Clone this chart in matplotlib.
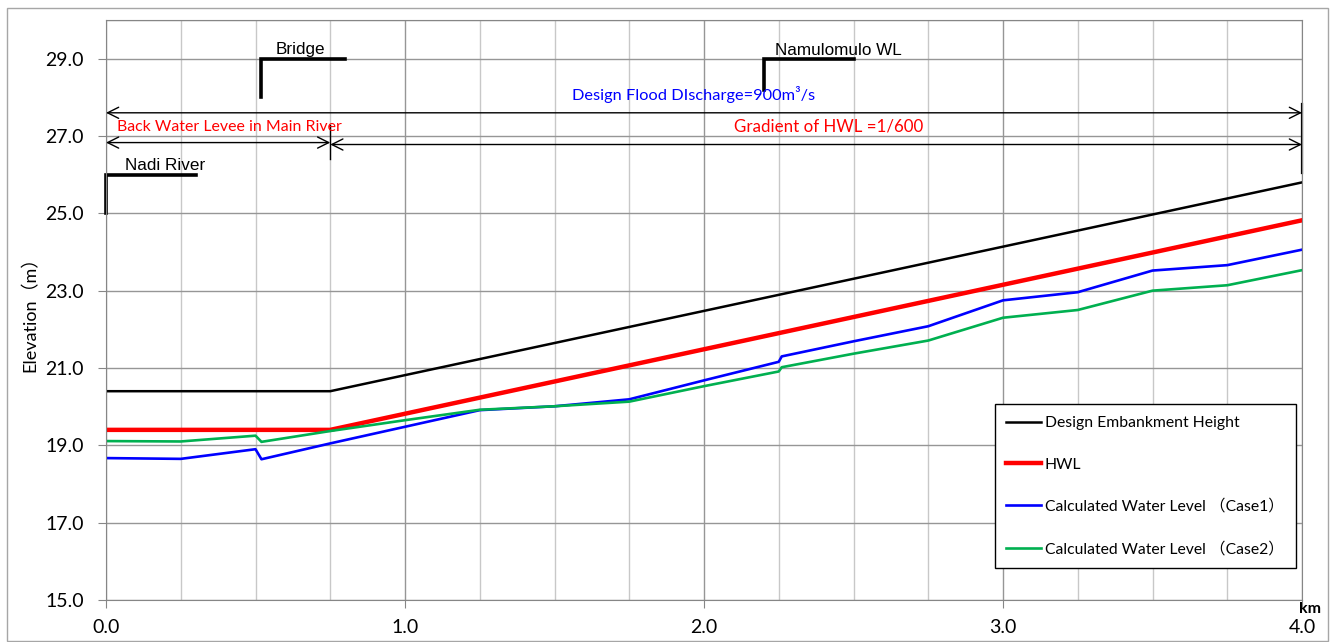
import matplotlib.pyplot as plt
from matplotlib.patches import Rectangle

# data
km_design = [0.0, 0.75, 4.0]
design_height = [20.4, 20.4, 25.8]
km_hwl = [0.0, 0.75, 4.0]
hwl = [19.4, 19.4, 24.82]
km_calc = [0.0, 0.25, 0.5, 0.52, 0.75, 1.0, 1.25, 1.5, 1.75, 2.0,
           2.25, 2.26, 2.5, 2.75, 3.0, 3.25, 3.5, 3.75, 4.0]
case1 = [18.67, 18.65, 18.90, 18.64, 19.05, 19.48, 19.91, 20.01, 20.19, 20.68,
         21.16, 21.30, 21.69, 22.08, 22.75, 22.96, 23.52, 23.66, 24.06]
case2 = [19.11, 19.10, 19.25, 19.09, 19.37, 19.65, 19.92, 20.01, 20.13, 20.53,
         20.91, 21.02, 21.37, 21.71, 22.30, 22.50, 23.00, 23.14, 23.53]

# location markers (km, elevation of bottom, top, end of flag)
nadi = (0.0, 25.0, 26.0, 0.30)
bridge = (0.52, 28.0, 29.0, 0.80)
namulomulo = (2.2, 28.2, 29.0, 2.5)

FONT = ['Lato', 'Noto Sans CJK JP', 'DejaVu Sans']
plt.rcParams['font.family'] = FONT

fig = plt.figure(figsize=(13.37, 6.42), dpi=100)
fig.patches.append(Rectangle((7/1337, 1/642), 1321/1337, 633/642, transform=fig.transFigure,
                             fill=False, edgecolor='#a6a6a6', lw=1))
ax = fig.add_axes([106/1337, 1 - 600/642, 1196/1337, 580/642])

ax.set_xlim(0, 4.0)
ax.set_ylim(15, 30)
ax.set_xticks([0, 1, 2, 3, 4])
ax.set_xticks([i * 0.25 for i in range(17)], minor=True)
ax.set_xticklabels(['0.0', '1.0', '2.0', '3.0', '4.0'])
ax.set_yticks([15, 17, 19, 21, 23, 25, 27, 29])
ax.set_yticklabels(['15.0', '17.0', '19.0', '21.0', '23.0', '25.0', '27.0', '29.0'])
ax.grid(which='minor', axis='x', color='#c8c8c8', lw=1)
ax.grid(which='major', axis='x', color='#969696', lw=1)
ax.grid(which='major', axis='y', color='#969696', lw=1)
ax.axhline(30, color='#969696', lw=1)
ax.tick_params(which='minor', length=0)
ax.tick_params(which='major', length=6, color='#868686', labelsize=14)
ax.tick_params(axis='y', pad=10)
ax.tick_params(axis='x', pad=8)
for s in ax.spines.values():
    s.set_color('#868686')
ax.set_axisbelow(True)

ax.set_ylabel('Elevation（m）', fontsize=13, labelpad=5)
fig.text(1310/1337, 1 - 609/642, 'km', fontsize=11.5, fontweight='bold', ha='center', va='center')

ax.plot(km_design, design_height, color='black', lw=1.8, label='Design Embankment Height')
ax.plot(km_hwl, hwl, color='#ff0000', lw=3.2, label='HWL')
ax.plot(km_calc, case1, color='#0000ff', lw=1.9, label='Calculated Water Level （Case1）')
ax.plot(km_calc, case2, color='#00b050', lw=1.9, label='Calculated Water Level （Case2）')

# location flags
for x, y0, y1, x1 in [nadi, bridge, namulomulo]:
    ax.plot([x, x, x1], [y0, y1, y1], color='black', lw=2.6, clip_on=False,
            solid_joinstyle='miter')
ax.text(0.063, 26.05, 'Nadi River', fontsize=12.3, family='Liberation Sans', va='bottom')
ax.text(0.566, 29.05, 'Bridge', fontsize=12.3, family='Liberation Sans', va='bottom')
ax.text(2.236, 29.02, 'Namulomulo WL', fontsize=12.3, family='Liberation Sans', va='bottom')

# range arrows
arw = dict(arrowstyle='<->', color='black', lw=1, mutation_scale=20, shrinkA=0, shrinkB=0)
ax.annotate('', xy=(0, 27.6), xytext=(4.0, 27.6), arrowprops=arw)
ax.annotate('', xy=(0, 26.83), xytext=(0.75, 26.83), arrowprops=arw)
ax.annotate('', xy=(0.75, 26.78), xytext=(4.0, 26.78), arrowprops=arw)
ax.plot([0.75, 0.75], [27.28, 26.4], color='black', lw=1)
ax.plot([4.0, 4.0], [27.83, 26.05], color='black', lw=1.6, clip_on=False)

ax.text(1.56, 28.07, 'Design Flood DIscharge=900m³/s', color='#0000ff', fontsize=11.8, va='center')
ax.text(0.037, 27.22, 'Back Water Levee in Main River', color='#ff0000', fontsize=11.4, va='center')
ax.text(2.10, 27.25, 'Gradient of HWL =1/600', color='#ff0000', fontsize=12.2, va='center')

leg = ax.legend(loc='lower left', bbox_to_anchor=(0.743, 0.055), fontsize=11.3, frameon=True,
                fancybox=False, framealpha=1, edgecolor='black', labelspacing=1.75,
                handlelength=2.2, handletextpad=0.25, borderpad=0.75, borderaxespad=0)
leg.get_frame().set_linewidth(1)

plt.savefig('out.png', dpi=100)
